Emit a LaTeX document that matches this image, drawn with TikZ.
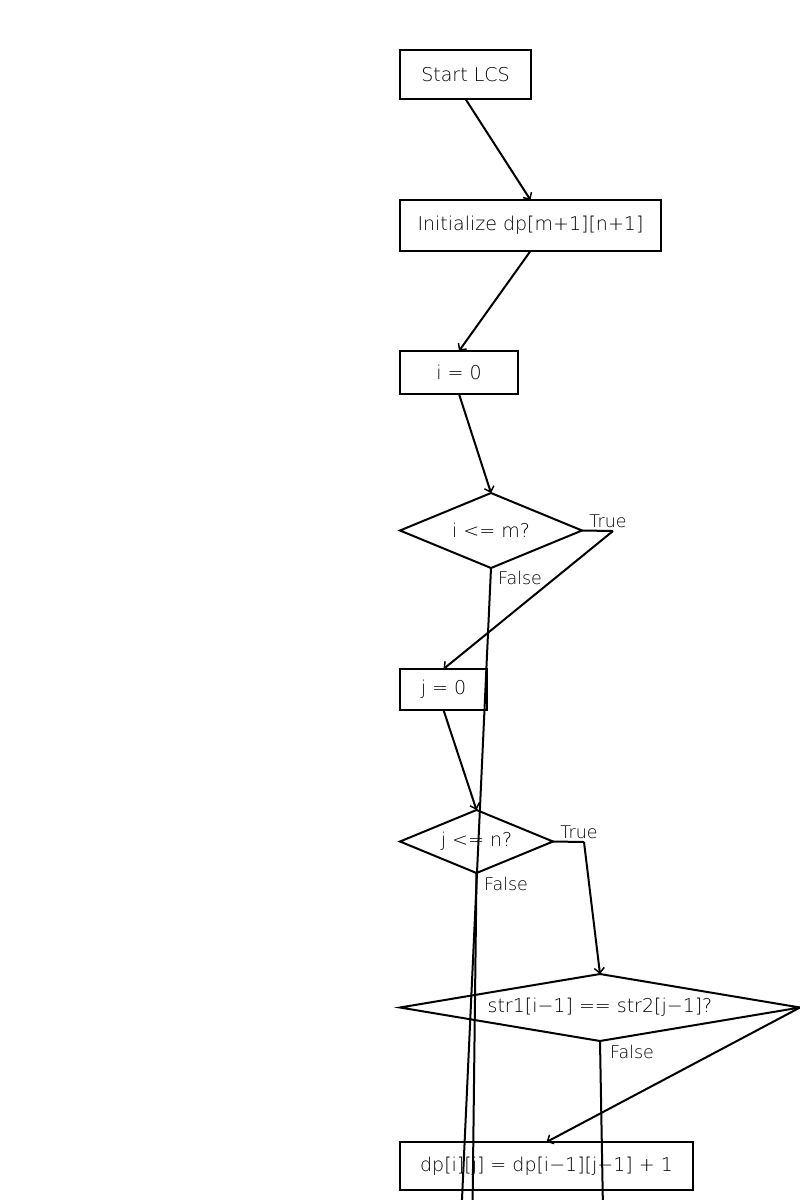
\documentclass[tikz,border=0pt]{standalone}
\usepackage{fontspec}
\setmainfont{DejaVu Sans}[UprightFont=* ExtraLight]
\usetikzlibrary{shapes.geometric,arrows.meta}
\begin{document}
\begin{tikzpicture}[x=1pt,y=-1pt,
  every node/.style={font=\fontsize{19}{22}\selectfont, inner sep=0pt, outer sep=0pt},
  proc/.style={draw, line width=2pt, rectangle, minimum width=#1},
  dec/.style={draw, line width=2pt, diamond, aspect=#1},
  lbl/.style={font=\fontsize{17.5}{20}\selectfont},
  conn/.style={line width=2pt},
  arr/.style={line width=2pt, -{Straight Barb[length=5pt,width=10pt,line width=1.5pt]}}]
\useasboundingbox (0,0) rectangle (800,1200);
\clip (0,0) rectangle (800,1200);
\fill[white] (0,0) rectangle (800,1200);
% nodes
\node[proc=131pt, minimum height=49pt] (start) at (465.5,74.5) {Start LCS};
\node[proc=261pt, minimum height=51pt] (init) at (530.5,225.5) {Initialize dp[m+1][n+1]};
\node[proc=118pt, minimum height=43pt] (i0) at (459,372.5) {i = 0};
\node[dec=2.4, minimum width=182pt, minimum height=75pt] (icond) at (491,530.5) {i <= m?};
\node[proc=87pt, minimum height=41pt] (j0) at (443.5,689.5) {j = 0};
\node[dec=2.4, minimum width=153pt, minimum height=63pt] (jcond) at (476.5,841.5) {j <= n?};
\node[dec=6, minimum width=400pt, minimum height=67pt] (eq) at (600,1007.5) {str1[i−1] == str2[j−1]?};
\node[proc=293pt, minimum height=48pt] (upd) at (546.5,1166) {dp[i][j] = dp[i−1][j−1] + 1};
% labels
\node[lbl] (t1) at (608,521) {True};
\node[lbl] (f1) at (520,578) {False};
\node[lbl] (t2) at (579,832) {True};
\node[lbl] (f2) at (506,884) {False};
\node[lbl] (f3) at (632,1052) {False};
% bend points and free ends
\coordinate (k1) at (613,531);
\coordinate (k2) at (584,842);
\coordinate (e1) at (461.5,1210);
\coordinate (e2) at (472.5,1210);
\coordinate (e3) at (603,1210);
% connectors
\draw[arr] (start.south) -- (init.north);
\draw[arr] (init.south) -- (i0.north);
\draw[arr] (i0.south) -- (icond.north);
\draw[conn] (icond.east) -- (k1);
\draw[arr] (k1) -- (j0.north);
\draw[conn] (icond.south) -- (e1);
\draw[arr] (j0.south) -- (jcond.north);
\draw[conn] (jcond.east) -- (k2);
\draw[arr] (k2) -- (eq.north);
\draw[conn] (jcond.south) -- (e2);
\draw[arr] (eq.east) -- (upd.north);
\draw[conn] (eq.south) -- (e3);
\end{tikzpicture}
\end{document}
